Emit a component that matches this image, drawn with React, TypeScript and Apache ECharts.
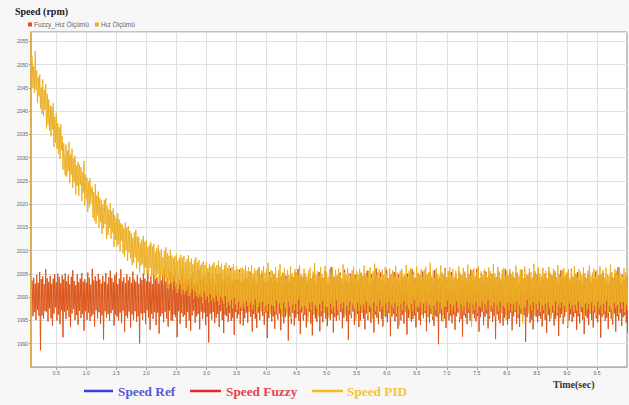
import React, { useEffect, useRef } from "react";
import * as echarts from "echarts";

// Sample clock of the logged speed data (seconds)
const TIME_START = 0.1;
const TIME_STEP = 0.0125;

// Measured speed with the fuzzy controller (rpm), 40 samples per row = 0.5 s
const fuzzySpeed: number[] = [
  2003.6, 1995.9, 2004.2, 1996.8, 2002.9, 1995.1, 2004.8, 1997.3, 2003.1, 1996.0, 2005.4, 1988.6, 2003.9, 1996.1, 2004.5, 1995.4, 2002.8, 1997.0, 2006.0, 1996.9, 2004.1, 1994.8, 2003.3, 1997.6, 2004.6, 1995.4, 2002.9, 1993.9, 2004.0, 1996.5, 2004.9, 1997.8, 2003.2, 1995.0, 2005.1, 1996.3, 2004.3, 1994.2, 2003.0, 1997.2,
  2004.7, 1991.4, 2003.8, 1996.9, 2005.1, 1995.3, 2003.4, 1997.2, 2004.7, 1995.7, 2002.8, 1993.6, 2004.4, 1996.5, 2005.8, 1997.5, 2003.5, 1995.1, 2002.6, 1996.2, 2004.9, 1994.1, 2003.2, 1997.1, 2004.0, 1995.5, 2005.2, 1996.4, 2003.3, 1992.8, 2003.9, 1997.0, 2003.1, 1995.1, 2005.3, 1996.7, 2004.2, 1994.9, 2002.7, 1995.9,
  2006.1, 1996.3, 2003.6, 1993.7, 2004.5, 1997.2, 2003.5, 1995.4, 2005.0, 1996.8, 2003.8, 1994.3, 2002.9, 1996.1, 2004.6, 1990.9, 2003.3, 1997.0, 2005.2, 1995.6, 2002.8, 1996.4, 2004.3, 1994.9, 2005.7, 1996.6, 2004.1, 1997.3, 2003.2, 1993.9, 2004.7, 1996.2, 2005.3, 1995.8, 2002.8, 1995.0, 2004.0, 1996.7, 2006.0, 1994.4,
  2003.4, 1997.1, 2004.3, 1992.5, 2003.0, 1996.0, 2004.9, 1995.5, 2003.6, 1996.9, 2004.4, 1993.5, 2003.1, 1996.3, 2005.5, 1995.2, 2003.8, 1997.0, 2003.3, 1994.7, 2004.7, 1995.9, 2002.9, 1990.1, 2004.2, 1996.5, 2003.7, 1995.1, 2005.2, 1996.6, 2004.0, 1994.2, 2003.4, 1997.2, 2005.9, 1995.6, 2003.2, 1993.0, 2004.5, 1996.4,
  2002.8, 1995.3, 2005.1, 1996.8, 2003.9, 1994.0, 2004.3, 1996.7, 2003.1, 1992.2, 2004.8, 1995.9, 2003.6, 1996.5, 2004.7, 1994.6, 2006.1, 1996.9, 2003.4, 1995.4, 2004.1, 1993.7, 2002.9, 1997.1, 2005.3, 1995.0, 2003.2, 1994.9, 2004.5, 1996.3, 2005.7, 1995.7, 2003.0, 1991.4, 2004.3, 1997.0, 2003.7, 1994.3, 2004.6, 1996.6,
  2006.4, 1995.8, 2003.3, 1996.2, 2003.9, 1993.4, 2005.0, 1996.8, 2003.8, 1995.0, 2003.2, 1992.8, 2004.4, 1996.1, 2005.5, 1997.1, 2002.9, 1994.5, 2004.1, 1995.9, 2003.5, 1996.4, 2005.8, 1993.1, 2004.2, 1996.9, 2003.6, 1995.3, 2004.9, 1996.7, 2004.3, 1994.0, 2002.8, 1995.8, 2005.4, 1990.3, 2004.0, 1996.5, 2003.4, 1995.2,
  2006.0, 1996.8, 2003.8, 1994.4, 2003.1, 1995.6, 2004.7, 1996.4, 2003.3, 1993.6, 2005.1, 1997.0, 2003.9, 1995.1, 2003.0, 1992.3, 2005.6, 1996.2, 2004.2, 1995.9, 2002.9, 1994.7, 2004.5, 1996.6, 2006.2, 1994.9, 2003.1, 1995.6, 2004.4, 1991.9, 2003.7, 1996.8, 2005.2, 1995.4, 2003.8, 1996.3, 2005.9, 1994.2, 2003.2, 1997.1,
  2004.6, 1993.9, 2003.5, 1995.5, 2005.0, 1996.7, 2004.0, 1994.5, 2003.4, 1996.9, 2005.5, 1995.8, 2003.1, 1992.6, 2004.3, 1996.4, 2004.8, 1995.3, 2002.9, 1993.4, 2004.1, 1996.6, 2006.3, 1995.1, 2003.6, 1997.0, 2005.2, 1996.0, 2003.9, 1994.1, 2003.2, 1996.7, 2004.7, 1991.2, 2003.5, 1995.5, 2005.4, 1996.9, 2004.1, 1994.8,
  2003.0, 1995.9, 2004.9, 1993.2, 2004.4, 1996.3, 2003.3, 1995.2, 2005.8, 1996.5, 2004.2, 1992.9, 2003.7, 1996.1, 2005.1, 1994.4, 2002.8, 1995.7, 2004.6, 1996.8, 2005.7, 1990.7, 2003.4, 1995.9, 2004.3, 1994.3, 2004.5, 1996.6, 2003.0, 1993.9, 2005.3, 1995.6, 2003.8, 1996.4, 2006.1, 1994.9, 2003.3, 1992.1, 2004.4, 1996.7,
  2003.7, 1995.0, 2004.8, 1996.2, 2004.1, 1993.5, 2003.4, 1995.8, 2005.0, 1996.9, 2003.9, 1994.3, 2003.2, 1991.8, 2004.7, 1996.3, 2005.8, 1995.4, 2003.1, 1994.7, 2004.3, 1996.5, 2005.4, 1992.7, 2003.6, 1995.9, 2004.2, 1994.6, 2003.5, 1996.7, 2005.6, 1995.3, 2004.0, 1993.8, 2002.9, 1996.0, 2004.9, 1995.1, 2006.5, 1996.4,
  2003.7, 1992.4, 2004.4, 1995.7, 2003.2, 1994.9, 2004.6, 1996.1, 2003.5, 1995.2, 2005.3, 1996.8, 2004.0, 1993.3, 2003.1, 1995.6, 2005.9, 1996.6, 2003.6, 1994.8, 2004.5, 1990.8, 2003.2, 1996.2, 2005.0, 1995.5, 2004.3, 1996.9, 2003.0, 1994.1, 2004.8, 1995.8, 2005.5, 1996.4, 2003.4, 1993.6, 2004.1, 1995.0, 2005.2, 1996.7,
  2003.9, 1995.4, 2004.6, 1993.1, 2003.3, 1996.5, 2005.7, 1995.1, 2004.2, 1996.8, 2003.0, 1994.5, 2005.0, 1995.9, 2003.8, 1992.4, 2004.5, 1996.3, 2006.2, 1995.6, 2003.4, 1994.2, 2004.1, 1996.9, 2005.3, 1995.3, 2003.6, 1993.7, 2004.7, 1996.1, 2003.2, 1995.7, 2005.9, 1994.6, 2004.0, 1996.6, 2003.5, 1991.6, 2004.9, 1995.8,
  2003.1, 1996.4, 2005.4, 1994.8, 2004.3, 1995.9, 2003.7, 1993.2, 2004.9, 1996.7, 2003.3, 1995.0, 2005.6, 1996.2, 2004.0, 1994.3, 2003.6, 1996.9, 2004.6, 1992.0, 2005.1, 1995.6, 2003.2, 1996.5, 2004.4, 1994.7, 2006.0, 1995.3, 2003.8, 1996.1, 2004.2, 1993.5, 2003.0, 1996.8, 2005.2, 1995.1, 2004.7, 1994.0, 2003.4, 1996.3,
  2005.5, 1995.5, 2004.1, 1996.6, 2003.3, 1992.7, 2004.8, 1995.8, 2003.9, 1994.5, 2005.3, 1996.4, 2004.2, 1995.2, 2003.1, 1993.8, 2005.8, 1996.0, 2004.5, 1995.7, 2003.6, 1989.9, 2004.0, 1996.5, 2005.0, 1994.9, 2003.4, 1996.2, 2004.7, 1995.4, 2006.3, 1993.4, 2003.7, 1996.8, 2004.3, 1995.0, 2003.0, 1996.0, 2005.4, 1994.4,
  2004.0, 1996.3, 2003.5, 1993.0, 2004.9, 1995.9, 2003.2, 1996.7, 2005.6, 1994.6, 2004.3, 1995.3, 2003.8, 1991.5, 2004.6, 1996.1, 2005.1, 1995.6, 2003.3, 1994.2, 2004.8, 1996.6, 2003.0, 1995.0, 2005.9, 1993.6, 2004.2, 1996.4, 2003.7, 1995.5, 2004.5, 1994.8, 2006.1, 1996.0, 2003.4, 1992.6, 2004.1, 1995.7, 2005.2, 1996.8,
  2003.6, 1994.0, 2004.4, 1995.8, 2005.5, 1996.5, 2003.1, 1993.3, 2004.7, 1995.4, 2003.9, 1996.9, 2005.0, 1994.7, 2003.3, 1995.9, 2004.2, 1991.0, 2003.8, 1996.3, 2005.7, 1995.2, 2004.0, 1994.4, 2003.5, 1996.6, 2004.9, 1993.9, 2003.2, 1995.6, 2006.0, 1996.2, 2004.4, 1994.1, 2003.6, 1995.3, 2005.3, 1996.7, 2003.9, 1992.9,
  2004.5, 1995.9, 2003.4, 1996.8, 2005.2, 1994.3, 2004.0, 1995.5, 2003.0, 1993.6, 2004.8, 1996.4, 2005.9, 1995.0, 2003.7, 1996.1, 2004.3, 1990.4, 2003.2, 1995.7, 2004.6, 1996.9, 2005.4, 1994.5, 2003.8, 1995.2, 2004.1, 1993.1, 2005.1, 1996.3, 2003.3, 1995.8, 2004.9, 1994.6, 2006.2, 1996.0, 2003.5, 1995.4, 2004.4, 1993.7,
  2003.9, 1996.5, 2005.0, 1995.1, 2004.2, 1992.3, 2003.6, 1996.2, 2005.6, 1994.8, 2003.1, 1995.9, 2004.7, 1996.7, 2003.4, 1993.9, 2005.3, 1995.3, 2004.0, 1996.1, 2003.2, 1991.7, 2004.9, 1995.6, 2005.8, 1996.4, 2003.7, 1994.2, 2004.3, 1995.8, 2003.0, 1996.9, 2005.1, 1993.4, 2004.6, 1995.0, 2003.5, 1996.3, 2006.1, 1994.7,
  2004.2, 1995.7, 2003.3, 1996.6, 2004.8, 1993.0, 2005.4, 1995.9, 2003.7, 1994.4, 2004.1, 1996.8, 2003.1, 1995.2, 2005.2, 1992.1, 2004.4, 1996.0, 2003.6, 1995.5, 2004.9, 1994.0, 2006.0, 1996.5, 2003.3, 1995.1, 2004.5, 1993.5, 2003.9, 1996.7, 2005.5, 1995.4, 2004.0, 1994.6, 2003.2, 1996.2, 2004.7, 1991.3, 2003.8, 1995.8,
  2005.3, 1996.3, 2004.1, 1994.9, 2003.4, 1995.6, 2004.6, 1993.2, 2003.0, 1996.8, 2005.7, 1995.3, 2004.3, 1994.1, 2003.5, 1996.5, 2004.9, 1992.6, 2003.7, 1995.9, 2006.4, 1995.0, 2004.2, 1996.6, 2003.1, 1993.8, 2004.8, 1995.7, 2003.6, 1996.1, 2005.0, 1994.5, 2004.4, 1992.4, 2003.3, 1995.5, 2004.0, 1996.9, 2005.6, 1994.8,
];

// Measured speed with the PID controller (rpm), 40 samples per row = 0.5 s
const pidSpeed: number[] = [
  2051.8, 2045.0, 2049.6, 2043.9, 2052.9, 2044.6, 2048.7, 2041.8, 2047.3, 2043.2, 2047.9, 2040.6, 2045.1, 2039.4, 2046.8, 2038.9, 2044.6, 2040.3, 2045.8, 2036.2, 2043.7, 2037.1, 2042.5, 2035.8, 2041.2, 2034.6, 2040.9, 2036.0, 2041.7, 2032.3, 2038.8, 2033.2, 2039.6, 2031.9, 2037.4, 2030.8, 2036.5, 2029.7, 2037.2, 2031.6,
  2034.6, 2027.4, 2033.1, 2028.9, 2026.2, 2032.8, 2025.9, 2031.5, 2027.1, 2033.4, 2024.6, 2030.7, 2026.3, 2031.9, 2023.5, 2029.8, 2024.7, 2030.4, 2022.1, 2028.3, 2023.9, 2029.1, 2021.8, 2028.5, 2024.2, 2027.9, 2020.6, 2026.8, 2022.4, 2029.2, 2019.7, 2026.3, 2021.2, 2025.7, 2018.4, 2024.9, 2019.3, 2025.6, 2020.1, 2023.2,
  2023.8, 2017.1, 2022.6, 2016.4, 2024.3, 2015.8, 2021.9, 2017.6, 2022.7, 2014.9, 2021.4, 2016.2, 2020.8, 2013.6, 2019.9, 2014.8, 2020.9, 2015.7, 2021.3, 2012.5, 2019.6, 2013.4, 2018.8, 2014.9, 2020.2, 2012.6, 2018.5, 2013.9, 2019.1, 2010.8, 2017.6, 2012.3, 2016.9, 2010.9, 2018.0, 2011.4, 2016.7, 2009.8, 2015.9, 2012.2,
  2015.6, 2009.4, 2014.8, 2008.7, 2016.1, 2010.1, 2014.9, 2007.8, 2015.3, 2009.6, 2014.2, 2008.3, 2013.7, 2006.9, 2012.8, 2007.4, 2013.9, 2008.6, 2014.5, 2006.2, 2013.1, 2007.6, 2012.9, 2005.3, 2011.7, 2006.8, 2012.4, 2007.1, 2013.2, 2004.9, 2011.9, 2006.4, 2012.3, 2005.2, 2010.8, 2004.7, 2011.2, 2006.3, 2011.8, 2003.6,
  2010.9, 2004.6, 2011.4, 2003.8, 2009.7, 2004.2, 2010.6, 2005.1, 2011.2, 2002.9, 2009.8, 2003.7, 2010.3, 2004.5, 2008.6, 2002.6, 2009.9, 2004.0, 2010.7, 2003.2, 2009.4, 2001.8, 2008.9, 2003.6, 2010.1, 2002.9, 2009.0, 2001.6, 2008.4, 2003.4, 2008.8, 2002.2, 2009.3, 2000.9, 2007.9, 2001.7, 2008.5, 2002.8, 2009.1, 2000.6,
  2008.4, 2001.6, 2008.9, 2000.8, 2007.5, 2001.3, 2008.2, 2002.4, 2009.0, 2000.2, 2007.6, 2000.9, 2008.3, 2001.7, 2007.1, 1999.6, 2007.9, 2001.2, 2008.6, 2000.4, 2007.4, 1999.9, 2008.0, 2000.6, 2006.8, 2000.1, 2007.3, 1998.7, 2007.8, 2001.0, 2006.9, 1999.5, 2007.6, 2000.2, 2006.3, 1998.9, 2007.1, 2000.7, 2006.6, 1999.3,
  2007.0, 1999.8, 2007.5, 1998.9, 2006.4, 2000.4, 2006.9, 1999.2, 2007.8, 1998.3, 2006.6, 2000.1, 2007.2, 1999.4, 2005.9, 1998.6, 2006.8, 2000.3, 2007.4, 1997.8, 2006.2, 1999.0, 2006.9, 1998.2, 2005.7, 1999.5, 2006.5, 1997.6, 2007.1, 1999.9, 2005.8, 1998.4, 2006.6, 1997.3, 2006.0, 1999.1, 2005.5, 1998.0, 2006.3, 1997.5,
  2006.3, 1998.7, 2005.9, 1997.6, 2006.8, 1999.2, 2005.6, 1998.1, 2006.4, 1996.9, 2005.4, 1998.9, 2006.9, 1997.4, 2005.1, 1998.4, 2006.2, 1999.6, 2005.7, 1996.5, 2005.9, 1997.9, 2006.5, 1998.8, 2004.9, 1997.2, 2005.8, 1999.0, 2006.7, 1996.8, 2005.3, 1998.2, 2006.1, 1997.0, 2007.4, 1998.6, 2005.0, 1996.4, 2005.8, 1998.3,
  2005.6, 1998.1, 2004.9, 1997.0, 2006.4, 1999.3, 2004.2, 1996.5, 2005.8, 1998.7, 2007.1, 1997.4, 2004.6, 1995.8, 2005.3, 1998.9, 2006.2, 1997.7, 2004.0, 1996.2, 2005.9, 1999.1, 2004.7, 1997.9, 2006.6, 1995.3, 2005.1, 1998.4, 2004.3, 1997.1, 2006.0, 1998.6, 2005.4, 1996.8, 2004.8, 1999.5, 2006.9, 1997.3, 2005.0, 1998.0,
  2004.4, 1996.6, 2006.1, 1998.2, 2005.2, 1997.5, 2004.5, 1994.6, 2005.7, 1998.8, 2006.3, 1997.2, 2004.1, 1999.0, 2005.5, 1996.4, 2007.3, 1998.3, 2004.9, 1997.6, 2005.6, 1995.9, 2004.6, 1998.5, 2006.5, 1997.0, 2005.0, 1999.2, 2004.2, 1996.9, 2006.7, 1998.1, 2005.3, 1997.8, 2004.4, 1995.5, 2006.0, 1998.7, 2005.1, 1997.3,
  2006.4, 1998.0, 2004.3, 1996.7, 2005.9, 1999.4, 2004.7, 1997.2, 2006.2, 1995.6, 2005.0, 1998.6, 2004.0, 1997.5, 2007.0, 1998.9, 2005.4, 1996.1, 2004.8, 1998.2, 2006.3, 1997.1, 2005.2, 1999.0, 2004.5, 1996.3, 2005.8, 1998.4, 2006.6, 1997.6, 2004.2, 1994.9, 2005.5, 1998.8, 2004.9, 1997.0, 2006.1, 1998.3, 2005.3, 1996.6,
  2004.6, 1998.5, 2006.8, 1997.3, 2005.1, 1999.1, 2004.4, 1996.0, 2005.7, 1998.2, 2006.4, 1997.7, 2004.1, 1995.4, 2005.6, 1998.9, 2007.2, 1997.0, 2004.8, 1998.1, 2005.4, 1996.5, 2006.0, 1999.3, 2004.3, 1997.4, 2005.9, 1998.0, 2004.7, 1996.2, 2006.5, 1998.7, 2005.2, 1997.1, 2004.0, 1999.0, 2006.2, 1995.7, 2005.0, 1998.4,
  2005.8, 1997.6, 2004.5, 1998.8, 2006.7, 1996.4, 2005.3, 1998.1, 2004.2, 1993.9, 2005.6, 1998.5, 2006.1, 1997.2, 2004.6, 1999.2, 2005.0, 1996.8, 2006.9, 1998.3, 2004.4, 1997.5, 2005.7, 1995.2, 2006.3, 1998.6, 2004.9, 1997.0, 2005.5, 1999.4, 2004.1, 1996.6, 2006.6, 1998.0, 2005.2, 1997.8, 2004.7, 1998.9, 2006.0, 1996.3,
  2004.3, 1998.7, 2005.9, 1997.1, 2006.5, 1999.0, 2004.8, 1996.1, 2005.4, 1998.4, 2007.4, 1997.6, 2004.5, 1995.8, 2005.8, 1998.2, 2004.2, 1997.3, 2006.2, 1999.1, 2005.0, 1996.7, 2004.6, 1998.8, 2006.8, 1997.4, 2005.3, 1994.7, 2004.9, 1998.0, 2006.0, 1997.9, 2004.3, 1999.3, 2005.6, 1996.5, 2006.4, 1998.6, 2004.7, 1997.2,
  2006.1, 1998.3, 2004.4, 1996.9, 2005.7, 1999.2, 2004.0, 1997.7, 2006.6, 1995.5, 2005.1, 1998.6, 2004.8, 1997.0, 2006.3, 1998.1, 2005.5, 1996.4, 2004.2, 1999.0, 2007.0, 1997.5, 2005.0, 1998.7, 2004.6, 1993.6, 2005.8, 1998.4, 2006.2, 1997.3, 2004.5, 1998.9, 2005.3, 1996.6, 2006.7, 1998.0, 2004.1, 1997.8, 2005.6, 1999.1,
  2004.9, 1996.8, 2006.0, 1998.5, 2005.2, 1997.4, 2004.3, 1999.3, 2006.4, 1996.0, 2005.6, 1998.2, 2004.7, 1997.6, 2007.1, 1998.9, 2005.1, 1995.9, 2004.4, 1998.3, 2006.5, 1997.1, 2005.4, 1999.0, 2004.0, 1996.7, 2005.9, 1998.1, 2006.3, 1997.7, 2004.6, 1995.1, 2005.7, 1998.8, 2004.8, 1997.2, 2006.1, 1998.6, 2005.0, 1996.9,
  2005.5, 1998.7, 2004.2, 1997.0, 2006.8, 1999.1, 2005.3, 1996.3, 2004.5, 1998.4, 2006.0, 1997.5, 2005.8, 1994.4, 2004.1, 1998.0, 2006.6, 1997.8, 2005.0, 1999.4, 2004.7, 1996.5, 2006.2, 1998.3, 2005.4, 1997.2, 2004.3, 1998.9, 2007.2, 1996.1, 2005.6, 1998.5, 2004.9, 1997.4, 2006.4, 1999.0, 2005.1, 1996.8, 2004.4, 1998.2,
  2006.3, 1997.3, 2004.8, 1998.6, 2005.6, 1996.2, 2004.0, 1998.8, 2006.5, 1997.6, 2005.2, 1995.3, 2004.6, 1998.1, 2006.1, 1997.0, 2005.7, 1999.2, 2004.3, 1996.6, 2006.9, 1998.4, 2005.0, 1997.7, 2004.5, 1998.9, 2005.9, 1996.0, 2006.2, 1998.2, 2004.7, 1997.1, 2005.4, 1993.8, 2006.0, 1998.7, 2004.2, 1997.5, 2005.8, 1998.3,
  2004.5, 1996.9, 2006.7, 1998.4, 2005.1, 1997.2, 2004.3, 1999.1, 2006.0, 1996.4, 2005.5, 1998.0, 2004.8, 1997.8, 2006.4, 1995.6, 2005.2, 1998.7, 2004.1, 1997.3, 2005.7, 1998.5, 2006.8, 1996.7, 2004.6, 1998.9, 2005.3, 1997.0, 2006.1, 1998.2, 2004.4, 1996.1, 2005.9, 1999.0, 2004.7, 1997.6, 2006.6, 1998.3, 2005.0, 1996.5,
  2005.8, 1998.6, 2004.3, 1997.1, 2006.3, 1999.2, 2005.0, 1996.6, 2004.6, 1998.1, 2007.0, 1997.4, 2005.4, 1995.4, 2004.2, 1998.8, 2006.0, 1997.7, 2005.6, 1998.3, 2004.8, 1996.2, 2006.5, 1998.9, 2005.1, 1997.5, 2004.4, 1999.0, 2006.2, 1996.8, 2005.3, 1998.4, 2004.9, 1997.2, 2006.7, 1998.0, 2005.2, 1996.9, 2004.5, 1998.5,
];

// Axis ticks
const timeTicks: number[] = [0.5, 1.0, 1.5, 2.0, 2.5, 3.0, 3.5, 4.0, 4.5, 5.0, 5.5, 6.0, 6.5, 7.0, 7.5, 8.0, 8.5, 9.0, 9.5];
const SPEED_MIN = 1985;
const SPEED_MAX = 2057;
const SPEED_STEP = 5;
const TIME_MIN = 0.08;
const TIME_MAX = 10;

const seriesNames = ["Fuzzy_Hız Ölçümü", "Hız Ölçümü"];
const bottomLegend = ["Speed Ref", "Speed Fuzzy", "Speed PID"];

const toPairs = (values: number[]) =>
  values.map((v, i) => [TIME_START + i * TIME_STEP, v]);

const SERIF = '"Liberation Serif", "Times New Roman", serif';
const SANS = '"Liberation Sans", Arial, sans-serif';

export default function App() {
  const ref = useRef<HTMLDivElement>(null);

  useEffect(() => {
    if (!ref.current) return;
    const chart = echarts.init(ref.current, undefined, { renderer: "svg" });

    const option: any = {
      animation: false,
      backgroundColor: "#f7f7f7",
      legend: {
        left: 28,
        top: 21,
        icon: "rect",
        itemWidth: 4,
        itemHeight: 4,
        itemGap: 6,
        padding: 0,
        textStyle: { fontSize: 6.5, color: "#666", fontFamily: SANS, padding: [0, 0, 0, -3] },
        data: seriesNames,
      },
      grid: {
        left: 31,
        right: 2,
        top: 32,
        bottom: 38,
        show: true,
        backgroundColor: "#ffffff",
        borderColor: "#8f8f8f",
        borderWidth: 1,
      },
      xAxis: {
        type: "value",
        min: TIME_MIN,
        max: TIME_MAX,
        axisLine: { show: true, lineStyle: { color: "#b0b0b0", width: 1 } },
        axisTick: { show: true, customValues: timeTicks, length: 3, lineStyle: { color: "#a0a0a0" } },
        axisLabel: {
          customValues: timeTicks,
          fontSize: 5,
          color: "#666",
          fontFamily: SANS,
          margin: 3,
          formatter: (v: number) => v.toFixed(1),
        },
        splitLine: { show: true, lineStyle: { color: "#e0e0e0", width: 1 } },
      },
      yAxis: {
        type: "value",
        min: SPEED_MIN,
        max: SPEED_MAX,
        interval: SPEED_STEP,
        axisLine: { show: true, lineStyle: { color: "#e8a824", width: 1.5 } },
        axisTick: { show: true, length: 2, lineStyle: { color: "#999" } },
        axisLabel: {
          fontSize: 5,
          color: "#666",
          fontFamily: SANS,
          margin: 3,
          showMinLabel: false,
          showMaxLabel: false,
          formatter: (v: number) => String(v),
        },
        splitLine: { show: true, lineStyle: { color: "#e0e0e0", width: 1 } },
      },
      series: [
        {
          name: seriesNames[0],
          type: "line",
          data: toPairs(fuzzySpeed),
          showSymbol: false,
          symbol: "none",
          clip: true,
          lineStyle: { width: 1, color: "#db5419" },
          itemStyle: { color: "#db5419" },
        },
        {
          name: seriesNames[1],
          type: "line",
          data: toPairs(pidSpeed),
          showSymbol: false,
          symbol: "none",
          clip: true,
          lineStyle: { width: 1, color: "#ecb025" },
          itemStyle: { color: "#ecb025" },
        },
      ],
      graphic: [
        {
          type: "text",
          x: 15,
          y: 11,
          style: { text: "Speed (rpm)", font: `bold 10px ${SERIF}`, fill: "#222", verticalAlign: "middle" },
        },
        {
          type: "text",
          x: 553,
          y: 384,
          style: { text: "Time(sec)", font: `bold 10px ${SERIF}`, fill: "#333", verticalAlign: "middle" },
        },
        { type: "line", shape: { x1: 84, y1: 391, x2: 113, y2: 391 }, style: { stroke: "#3c3cd2", lineWidth: 2.5 } },
        {
          type: "text",
          x: 118,
          y: 391,
          style: { text: bottomLegend[0], font: `bold 13.3px ${SERIF}`, fill: "#5858d8", verticalAlign: "middle" },
        },
        { type: "line", shape: { x1: 190, y1: 391, x2: 221, y2: 391 }, style: { stroke: "#e32b2b", lineWidth: 2.5 } },
        {
          type: "text",
          x: 226,
          y: 391,
          style: { text: bottomLegend[1], font: `bold 13.3px ${SERIF}`, fill: "#e8434b", verticalAlign: "middle" },
        },
        { type: "line", shape: { x1: 312, y1: 391, x2: 343, y2: 391 }, style: { stroke: "#f7b915", lineWidth: 2.5 } },
        {
          type: "text",
          x: 347,
          y: 391,
          style: { text: bottomLegend[2], font: `bold 13.3px ${SERIF}`, fill: "#f7c13a", verticalAlign: "middle" },
        },
      ],
    };

    chart.setOption(option);
    return () => chart.dispose();
  }, []);

  return (
    <div
      ref={ref}
      style={{ position: "fixed", left: 0, top: 0, width: 629, height: 405 }}
    />
  );
}
